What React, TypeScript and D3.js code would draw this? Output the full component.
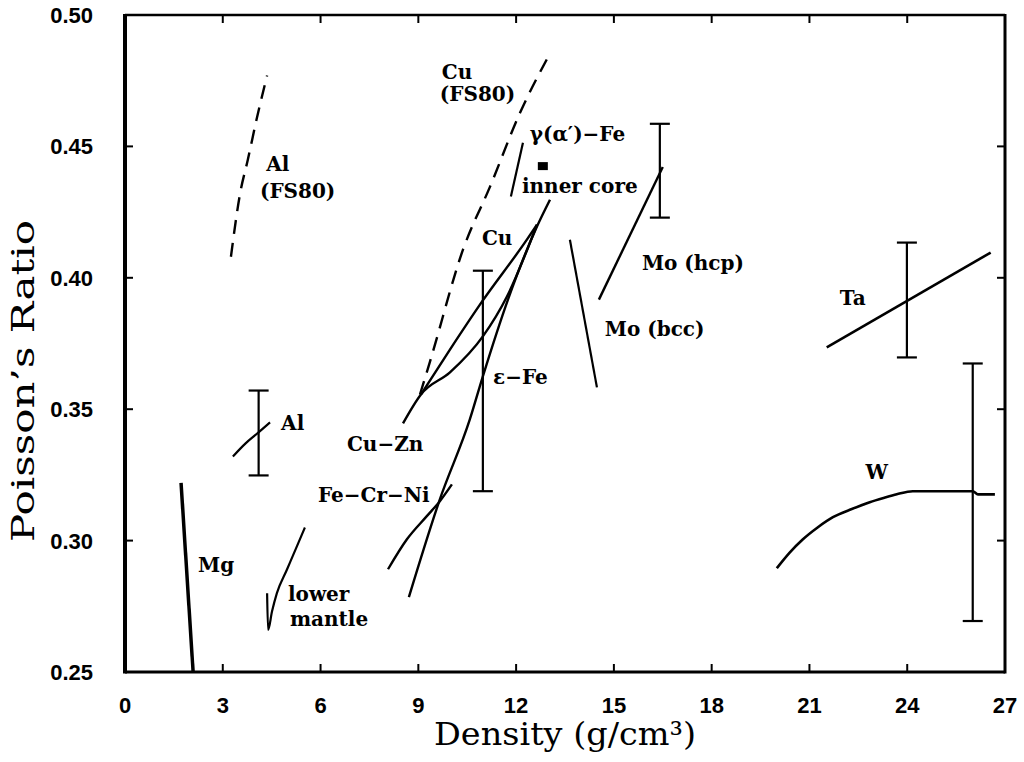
import { useEffect, useRef } from 'react';
import * as d3 from 'd3';

type Pt = [number, number];

// axis ticks
const xTicks = [0, 3, 6, 9, 12, 15, 18, 21, 24, 27];
const yTicks = [0.25, 0.3, 0.35, 0.4, 0.45, 0.5];

// curves: [density g/cm3, poisson's ratio]
const mgCurve: Pt[] = [[1.72, 0.322], [2.09, 0.25]];
const alFs80: Pt[] = [[3.25, 0.408], [3.53, 0.432], [3.77, 0.445], [4.05, 0.461], [4.36, 0.477]];
const alCurve: Pt[] = [[3.31, 0.332], [3.7, 0.337], [4.08, 0.341], [4.45, 0.345]];
const lowerMantle: Pt[] = [[4.36, 0.28], [4.39, 0.266], [4.51, 0.273], [4.66, 0.28], [4.97, 0.289], [5.28, 0.298], [5.52, 0.305]];
const cuFs80: Pt[] = [[9.05, 0.3556], [9.36, 0.3682], [10.37, 0.4107], [11.2, 0.4347], [12.12, 0.4628], [12.98, 0.484]];
const cuCurve: Pt[] = [[9.08, 0.3556], [9.97, 0.3727], [10.89, 0.3898], [12.33, 0.4145], [12.64, 0.4202]];
const cuZnCurve: Pt[] = [[8.53, 0.3446], [9.08, 0.3556], [9.97, 0.364], [10.98, 0.3777], [11.72, 0.3929], [12.64, 0.4202]];
const epsFe: Pt[] = [[8.71, 0.2785], [9.66, 0.3157], [10.58, 0.3461], [10.98, 0.3625], [11.75, 0.3917], [12.64, 0.4195], [13.04, 0.4297]];
const feCrNi: Pt[] = [[8.07, 0.2891], [8.65, 0.3005], [9.26, 0.3093], [9.66, 0.315], [10.03, 0.3214]];
const gammaFe: Pt[] = [[11.84, 0.4309], [12.21, 0.4514]];
const moBcc: Pt[] = [[13.65, 0.4145], [14.48, 0.3583]];
const moHcp: Pt[] = [[14.54, 0.3917], [16.5, 0.4422]];
const taCurve: Pt[] = [[21.53, 0.3735], [26.56, 0.4096]];
const wCurve: Pt[] = [[20.0, 0.2895], [20.4, 0.2955], [20.8, 0.3005], [21.25, 0.305], [21.72, 0.3089], [22.3, 0.312], [22.85, 0.3146], [23.3, 0.3163], [23.68, 0.3176], [24.17, 0.3188], [26.01, 0.3188], [26.17, 0.3176], [26.69, 0.3176]];

// inner core point
const innerCore: Pt = [12.82, 0.4425];

// error bars
const errX = [4.1, 10.98, 16.41, 23.99, 26.01];
const errLo = [0.3248, 0.3188, 0.4229, 0.3697, 0.2694];
const errHi = [0.3571, 0.4027, 0.4586, 0.4134, 0.3674];

// labels (left end of baseline)
const labelText = ['Al', '(FS80)', 'Cu', '(FS80)', 'γ(α′)−Fe', 'inner core', 'Cu', 'Mo (hcp)', 'Mo (bcc)', 'ε−Fe', 'Ta', 'Al', 'Cu−Zn', 'Fe−Cr−Ni', 'Mg', 'lower', 'mantle', 'W'];
const labelX = [4.33, 4.14, 9.72, 9.66, 12.42, 12.18, 10.95, 15.86, 14.72, 11.29, 21.93, 4.79, 6.81, 5.92, 2.24, 5.0, 5.06, 22.72];
const labelY = [0.4405, 0.4302, 0.4755, 0.4671, 0.4521, 0.4324, 0.4126, 0.4031, 0.3777, 0.3594, 0.3898, 0.3419, 0.334, 0.3146, 0.288, 0.277, 0.2675, 0.3233];

export default function App() {
  const ref = useRef<SVGSVGElement>(null);
  const width = 1024;
  const height = 762;

  useEffect(() => {
    const svg = d3.select(ref.current);
    svg.selectAll('*').remove();

    const x = d3.scaleLinear().domain([0, 27]).range([125, 1005]);
    const y = d3.scaleLinear().domain([0.25, 0.5]).range([672, 15]);
    const line = d3.line<Pt>().x(d => x(d[0])).y(d => y(d[1])).curve(d3.curveMonotoneX);

    const serif = '"DejaVu Serif", serif';
    const sans = '"Liberation Sans", Arial, sans-serif';

    // curves
    const curves = [
      { pts: mgCurve, w: 3.5, dash: '' },
      { pts: alFs80, w: 2.4, dash: '14,9' },
      { pts: alCurve, w: 2.2, dash: '' },
      { pts: lowerMantle, w: 2.2, dash: '' },
      { pts: cuFs80, w: 2.4, dash: '14,9' },
      { pts: cuCurve, w: 2.4, dash: '' },
      { pts: cuZnCurve, w: 2.4, dash: '' },
      { pts: epsFe, w: 2.4, dash: '' },
      { pts: feCrNi, w: 2.4, dash: '' },
      { pts: gammaFe, w: 2.2, dash: '' },
      { pts: moBcc, w: 2.2, dash: '' },
      { pts: moHcp, w: 2.4, dash: '' },
      { pts: taCurve, w: 2.6, dash: '' },
      { pts: wCurve, w: 2.6, dash: '' },
    ];
    svg.append('g')
      .selectAll('path')
      .data(curves)
      .enter()
      .append('path')
      .attr('d', d => line(d.pts))
      .attr('fill', 'none')
      .attr('stroke', '#000')
      .attr('stroke-width', d => d.w)
      .attr('stroke-dasharray', d => d.dash || null);

    // error bars
    const eb = svg.append('g').attr('stroke', '#000').attr('stroke-width', 2.2);
    errX.forEach((ex, i) => {
      eb.append('line').attr('x1', x(ex)).attr('x2', x(ex)).attr('y1', y(errLo[i])).attr('y2', y(errHi[i]));
      eb.append('line').attr('x1', x(ex) - 10).attr('x2', x(ex) + 10).attr('y1', y(errLo[i])).attr('y2', y(errLo[i]));
      eb.append('line').attr('x1', x(ex) - 10).attr('x2', x(ex) + 10).attr('y1', y(errHi[i])).attr('y2', y(errHi[i]));
    });

    // inner core marker
    svg.append('rect')
      .attr('x', x(innerCore[0]) - 5)
      .attr('y', y(innerCore[1]) - 4)
      .attr('width', 10)
      .attr('height', 8)
      .attr('fill', '#000');

    // labels
    svg.append('g')
      .selectAll('text')
      .data(labelText)
      .enter()
      .append('text')
      .attr('x', (d, i) => x(labelX[i]))
      .attr('y', (d, i) => y(labelY[i]))
      .attr('font-family', serif)
      .attr('font-weight', 'bold')
      .attr('font-size', 20)
      .attr('fill', '#000')
      .text(d => d);

    // frame
    const frame = svg.append('g').attr('stroke', '#000').attr('fill', 'none');
    frame.append('line').attr('x1', x(0)).attr('x2', x(0)).attr('y1', y(0.5) - 1).attr('y2', y(0.25) + 1.5).attr('stroke-width', 4);
    frame.append('line').attr('x1', x(0)).attr('x2', x(27)).attr('y1', y(0.25)).attr('y2', y(0.25)).attr('stroke-width', 3);
    frame.append('line').attr('x1', x(27)).attr('x2', x(27)).attr('y1', y(0.5) - 1).attr('y2', y(0.25) + 1.5).attr('stroke-width', 3);
    frame.append('line').attr('x1', x(0)).attr('x2', x(27)).attr('y1', y(0.5)).attr('y2', y(0.5)).attr('stroke-width', 2.5);

    // inward ticks
    const innerX = xTicks.slice(1, -1);
    const innerY = yTicks.slice(1, -1);
    innerX.forEach(t => {
      frame.append('line').attr('x1', x(t)).attr('x2', x(t)).attr('y1', y(0.25)).attr('y2', y(0.25) - 8).attr('stroke-width', 2);
      frame.append('line').attr('x1', x(t)).attr('x2', x(t)).attr('y1', y(0.5)).attr('y2', y(0.5) + 8).attr('stroke-width', 2);
    });
    innerY.forEach(t => {
      frame.append('line').attr('x1', x(0)).attr('x2', x(0) + 8).attr('y1', y(t)).attr('y2', y(t)).attr('stroke-width', 2);
      frame.append('line').attr('x1', x(27)).attr('x2', x(27) - 8).attr('y1', y(t)).attr('y2', y(t)).attr('stroke-width', 2);
    });

    // tick labels
    svg.append('g')
      .selectAll('text')
      .data(xTicks)
      .enter()
      .append('text')
      .attr('x', d => x(d))
      .attr('y', 713)
      .attr('text-anchor', 'middle')
      .attr('font-family', sans)
      .attr('font-weight', 'bold')
      .attr('font-size', 22)
      .text(d => String(d));
    svg.append('g')
      .selectAll('text')
      .data(yTicks)
      .enter()
      .append('text')
      .attr('x', 93)
      .attr('y', d => y(d) + 8)
      .attr('text-anchor', 'end')
      .attr('font-family', sans)
      .attr('font-weight', 'bold')
      .attr('font-size', 22)
      .text(d => d3.format('.2f')(d));

    // axis titles
    svg.append('text')
      .attr('x', 434)
      .attr('y', 745)
      .attr('font-family', serif)
      .attr('font-size', 31)
      .attr('textLength', 262)
      .attr('lengthAdjust', 'spacingAndGlyphs')
      .text('Density (g/cm³)');
    svg.append('text')
      .attr('transform', 'translate(34,542) rotate(-90)')
      .attr('font-family', serif)
      .attr('font-size', 31)
      .attr('textLength', 322)
      .attr('lengthAdjust', 'spacingAndGlyphs')
      .text('Poisson’s Ratio');
  }, []);

  return (
    <svg ref={ref} width={width} height={height}
      style={{ position: 'absolute', left: 0, top: 0, background: '#fff' }} />
  );
}
